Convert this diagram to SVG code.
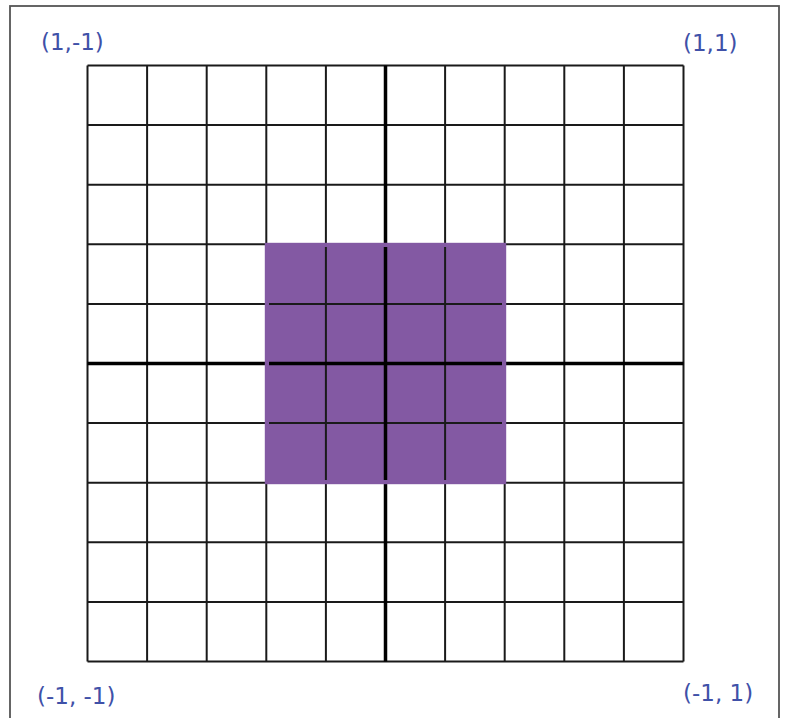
<svg xmlns="http://www.w3.org/2000/svg" width="785" height="718" viewBox="0 0 785 718">
  <style>
    .lbl { font-family: "DejaVu Sans", sans-serif; font-size: 23px; fill: #3F51A8; }
    .grid line { stroke: #1a1a1a; stroke-width: 2; }
    .axis line { stroke: #000; stroke-width: 3.5; }
  </style>
  <rect x="0" y="0" width="785" height="718" fill="#ffffff"/>
  <rect id="frame" x="10" y="6" width="769" height="730" fill="none" stroke="#555" stroke-width="1.8"/>
  <g id="grid" class="grid">
    <line x1="87.5" y1="65.5" x2="87.5" y2="661.5"/>
    <line x1="147.1" y1="65.5" x2="147.1" y2="661.5"/>
    <line x1="206.7" y1="65.5" x2="206.7" y2="661.5"/>
    <line x1="266.3" y1="65.5" x2="266.3" y2="661.5"/>
    <line x1="325.9" y1="65.5" x2="325.9" y2="661.5"/>
    <line x1="445.1" y1="65.5" x2="445.1" y2="661.5"/>
    <line x1="504.7" y1="65.5" x2="504.7" y2="661.5"/>
    <line x1="564.3" y1="65.5" x2="564.3" y2="661.5"/>
    <line x1="623.9" y1="65.5" x2="623.9" y2="661.5"/>
    <line x1="683.5" y1="65.5" x2="683.5" y2="661.5"/>
    <line x1="87.5" y1="65.5" x2="683.5" y2="65.5"/>
    <line x1="87.5" y1="125.1" x2="683.5" y2="125.1"/>
    <line x1="87.5" y1="184.7" x2="683.5" y2="184.7"/>
    <line x1="87.5" y1="244.3" x2="683.5" y2="244.3"/>
    <line x1="87.5" y1="303.9" x2="683.5" y2="303.9"/>
    <line x1="87.5" y1="423.1" x2="683.5" y2="423.1"/>
    <line x1="87.5" y1="482.7" x2="683.5" y2="482.7"/>
    <line x1="87.5" y1="542.3" x2="683.5" y2="542.3"/>
    <line x1="87.5" y1="601.9" x2="683.5" y2="601.9"/>
    <line x1="87.5" y1="661.5" x2="683.5" y2="661.5"/>
  </g>
  <g id="axes" class="axis">
    <line x1="385.5" y1="65.5" x2="385.5" y2="661.5"/>
    <line x1="87.5" y1="363.5" x2="683.5" y2="363.5"/>
  </g>
  <g id="region">
    <rect x="264.8" y="242.8" width="241.4" height="241.4" fill="#8359A3"/>
    <g class="grid">
      <line x1="325.9" y1="247" x2="325.9" y2="480"/>
      <line x1="445.1" y1="247" x2="445.1" y2="480"/>
      <line x1="269" y1="303.9" x2="502" y2="303.9"/>
      <line x1="269" y1="423.1" x2="502" y2="423.1"/>
    </g>
    <g class="axis">
      <line x1="385.5" y1="247" x2="385.5" y2="480"/>
      <line x1="269" y1="363.5" x2="502" y2="363.5"/>
    </g>
  </g>
  <g id="labels">
    <text class="lbl" x="41" y="50">(1,-1)</text>
    <text class="lbl" x="683" y="51">(1,1)</text>
    <text class="lbl" x="37" y="704">(-1, -1)</text>
    <text class="lbl" x="683" y="701">(-1, 1)</text>
  </g>
</svg>
